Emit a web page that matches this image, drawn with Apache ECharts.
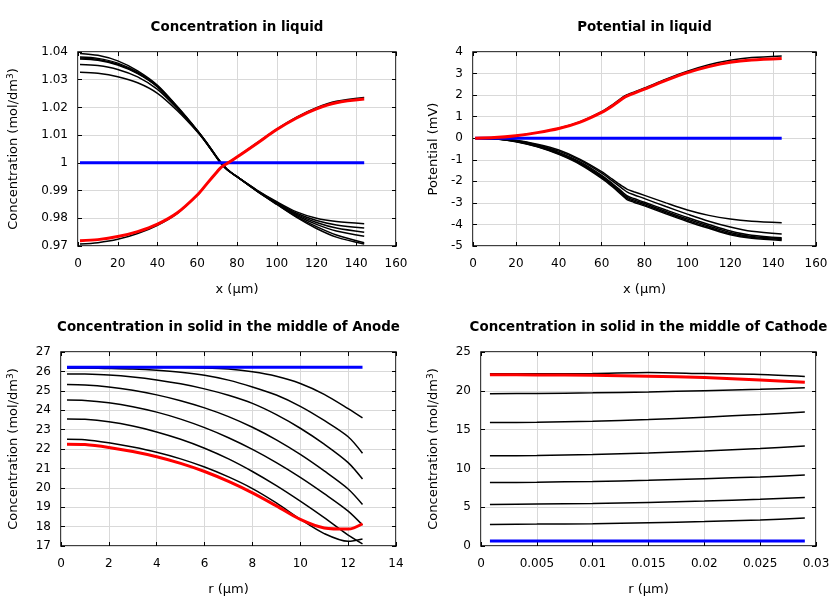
<!DOCTYPE html>
<html><head><meta charset="utf-8">
<script src="https://cdn.jsdelivr.net/npm/echarts@6/dist/echarts.min.js"></script>
<style>html,body{margin:0;padding:0;background:#fff}#c{width:840px;height:600px}</style>
</head><body><div id="c"></div>
<script>
// ---------- Plot 1: Concentration in liquid ----------
const xLiquid = [1,10,20,30,40,50,60,65,70,72,75,80,90,100,110,120,130,144];
const concLiqBlack = [
 [1.0395,1.0388,1.0368,1.0332,1.0280,1.0203,1.0118,1.0071,1.0020,1.0001,0.9978,0.9950,0.9898,0.9850,0.9803,0.9763,0.9732,0.9707],
 [1.0382,1.0377,1.0360,1.0327,1.0277,1.0201,1.0117,1.0070,1.0019,1.0000,0.9977,0.9950,0.9898,0.9851,0.9806,0.9770,0.9740,0.9712],
 [1.0378,1.0373,1.0356,1.0324,1.0275,1.0200,1.0116,1.0069,1.0018,0.9999,0.9976,0.9950,0.9899,0.9853,0.9810,0.9778,0.9754,0.9735],
 [1.0375,1.0370,1.0353,1.0322,1.0274,1.0199,1.0116,1.0069,1.0018,0.9999,0.9976,0.9950,0.9900,0.9855,0.9814,0.9785,0.9765,0.9750],
 [1.0355,1.0351,1.0337,1.0310,1.0265,1.0195,1.0114,1.0068,1.0017,0.9998,0.9975,0.9950,0.9901,0.9857,0.9818,0.9792,0.9776,0.9765],
 [1.0327,1.0323,1.0311,1.0289,1.0251,1.0188,1.0112,1.0067,1.0016,0.9997,0.9975,0.9950,0.9902,0.9860,0.9823,0.9800,0.9788,0.9780],
 [0.9707,0.9712,0.9724,0.9745,0.9775,0.9818,0.9883,0.9926,0.9968,0.9984,0.9999,1.0022,1.0072,1.0122,1.0165,1.0199,1.0222,1.0236]
];
const concLiqInitial = [1,1,1,1,1,1,1,1,1,1,1,1,1,1,1,1,1,1];
const concLiqFinal = [0.9719,0.9723,0.9734,0.9752,0.9779,0.9820,0.9884,0.9926,0.9968,0.9984,0.9998,1.0021,1.0070,1.0120,1.0162,1.0195,1.0217,1.0230];

// ---------- Plot 2: Potential in liquid ----------
const potBlack = [
 [0,-0.02,-0.09,-0.28,-0.55,-0.98,-1.55,-1.90,-2.25,-2.37,-2.48,-2.65,-3.00,-3.33,-3.58,-3.75,-3.85,-3.92],
 [0,-0.02,-0.11,-0.31,-0.60,-1.03,-1.62,-1.98,-2.36,-2.50,-2.62,-2.80,-3.17,-3.52,-3.85,-4.12,-4.32,-4.44],
 [0,-0.03,-0.13,-0.35,-0.66,-1.10,-1.72,-2.10,-2.52,-2.68,-2.80,-2.97,-3.33,-3.68,-4.00,-4.30,-4.50,-4.62],
 [0,-0.03,-0.14,-0.37,-0.69,-1.14,-1.77,-2.15,-2.58,-2.74,-2.86,-3.03,-3.40,-3.75,-4.07,-4.37,-4.56,-4.66],
 [0,-0.03,-0.15,-0.38,-0.72,-1.18,-1.82,-2.20,-2.64,-2.80,-2.92,-3.09,-3.46,-3.81,-4.13,-4.43,-4.60,-4.70],
 [0,-0.03,-0.16,-0.40,-0.75,-1.22,-1.86,-2.25,-2.69,-2.86,-2.97,-3.14,-3.51,-3.86,-4.18,-4.48,-4.64,-4.74],
 [0,0.03,0.12,0.26,0.46,0.77,1.23,1.55,1.92,2.02,2.14,2.33,2.74,3.11,3.41,3.62,3.74,3.82]
];
const potInitial = [0,0,0,0,0,0,0,0,0,0,0,0,0,0,0,0,0,0];
const potFinal = [0,0.03,0.12,0.26,0.45,0.75,1.20,1.50,1.85,1.96,2.08,2.28,2.68,3.04,3.32,3.52,3.63,3.70];

// ---------- Plot 3: Concentration in solid, Anode ----------
const rAnode = [0.25,1,2,3,4,5,6,7,8,9,10,11,12,12.6];
const anodeBlack = [
 [26.2,26.2,26.2,26.2,26.2,26.2,26.18,26.12,25.98,25.75,25.38,24.82,24.08,23.6],
 [26.17,26.17,26.15,26.12,26.06,25.96,25.8,25.55,25.2,24.78,24.2,23.47,22.63,21.78],
 [25.87,25.86,25.81,25.71,25.56,25.36,25.10,24.77,24.35,23.77,23.07,22.25,21.30,20.45],
 [25.32,25.30,25.20,25.03,24.79,24.49,24.12,23.67,23.12,22.47,21.72,20.87,19.94,19.14],
 [24.52,24.50,24.38,24.18,23.90,23.54,23.10,22.58,21.98,21.30,20.54,19.70,18.80,18.08],
 [23.55,23.53,23.40,23.18,22.88,22.50,22.04,21.49,20.84,20.11,19.31,18.46,17.56,17.11],
 [22.5,22.48,22.32,22.1,21.83,21.49,21.07,20.56,19.96,19.22,18.38,17.64,17.24,17.36]
];
const anodeInitial = [26.22,26.22,26.22,26.22,26.22,26.22,26.22,26.22,26.22,26.22,26.22,26.22,26.22,26.22];
const anodeFinal = [22.25,22.23,22.08,21.87,21.6,21.26,20.84,20.33,19.74,19.07,18.37,17.93,17.87,18.15];

// ---------- Plot 4: Concentration in solid, Cathode ----------
const rCathode = [0.0008,0.005,0.01,0.015,0.02,0.025,0.029];
const cathodeBlack = [
 [2.78,2.82,2.88,3.0,3.15,3.35,3.6],
 [5.36,5.4,5.48,5.62,5.8,6.02,6.25],
 [8.17,8.22,8.32,8.47,8.67,8.9,9.15],
 [11.62,11.67,11.8,12.0,12.25,12.55,12.88],
 [15.9,15.95,16.08,16.3,16.6,16.95,17.28],
 [19.63,19.66,19.74,19.86,20.02,20.2,20.38],
 [22.2,22.2,22.22,22.35,22.22,22.1,21.85]
];
const cathodeInitial = [0.64,0.64,0.64,0.64,0.64,0.64,0.64];
const cathodeFinal = [22.08,22.05,22.0,21.88,21.7,21.4,21.1];

// ---------- titles / axis names ----------
const titles = ['Concentration in liquid','Potential in liquid','Concentration in solid in the middle of Anode','Concentration in solid in the middle of Cathode'];
const xNames = ['x (µm)','x (µm)','r (µm)','r (µm)'];
const yNames = ['{n|Concentration (mol/dm}{s|3}{n|)}','{n|Potential (mV)}','{n|Concentration (mol/dm}{s|3}{n|)}','{n|Concentration (mol/dm}{s|3}{n|)}'];

const FONT = 'DejaVu Sans';
const grids = [
  {left:78, top:52, width:318, height:194},
  {left:473, top:52, width:343, height:194},
  {left:61, top:352, width:335, height:194},
  {left:481, top:352, width:335, height:194}
];
const xRanges = [[0,160,20],[0,160,20],[0,14,2],[0,0.03,0.005]];
const yRanges = [[0.97,1.04,0.01],[-5,4,1],[17,27,1],[0,25,5]];
const yGaps = [56,31,39,39];

const xAxes = [], yAxes = [], titleArr = [];
const tick = {inside:true,length:4,lineStyle:{color:'#000',width:1}};
grids.forEach((g,i)=>{
  titleArr.push({text:titles[i], left:g.left+g.width/2-5, top:g.top-36, textAlign:'center',
    textStyle:{fontFamily:FONT,fontSize:13.4,fontWeight:'bold',color:'#000'}});
  xAxes.push({gridIndex:i, type:'value', position:'bottom', min:xRanges[i][0], max:xRanges[i][1], interval:xRanges[i][2],
    name:xNames[i], nameLocation:'middle', nameGap:37,
    nameTextStyle:{fontFamily:FONT,fontSize:13,color:'#000'},
    axisLine:{show:false,onZero:false}, axisTick:tick,
    axisLabel:{margin:12,fontFamily:FONT,fontSize:12,color:'#000'},
    splitLine:{show:true,lineStyle:{color:'#d9d9d9',width:1}}});
  xAxes.push({gridIndex:i, type:'value', position:'top', min:xRanges[i][0], max:xRanges[i][1], interval:xRanges[i][2],
    axisLine:{show:false,onZero:false}, axisTick:tick,
    axisLabel:{show:false}, splitLine:{show:false}});
  yAxes.push({gridIndex:i, type:'value', position:'left', min:yRanges[i][0], max:yRanges[i][1], interval:yRanges[i][2],
    name:yNames[i], nameLocation:'middle', nameGap:yGaps[i], nameRotate:90,
    nameTextStyle:{fontFamily:FONT,fontSize:13,color:'#000',
      rich:{n:{fontFamily:FONT,fontSize:13,color:'#000',lineHeight:16},
            s:{fontFamily:FONT,fontSize:9,color:'#000',verticalAlign:'top',lineHeight:16,padding:[0,0,8,0]}}},
    axisLine:{show:false,onZero:false}, axisTick:tick,
    axisLabel:{margin:10,fontFamily:FONT,fontSize:12,color:'#000'},
    splitLine:{show:true,lineStyle:{color:'#d9d9d9',width:1}}});
  yAxes.push({gridIndex:i, type:'value', position:'right', min:yRanges[i][0], max:yRanges[i][1], interval:yRanges[i][2],
    axisLine:{show:false,onZero:false}, axisTick:tick,
    axisLabel:{show:false}, splitLine:{show:false}});
});

const series = [];
function addLine(gi, xs, ys, color, width, z){
  series.push({type:'line', xAxisIndex:gi*2, yAxisIndex:gi*2, data:xs.map((x,k)=>[x,ys[k]]),
    showSymbol:false, symbol:'none', smooth:0.3, lineStyle:{color:color,width:width}, z:z, silent:true, animation:false});
}
const sets = [
  [xLiquid, concLiqBlack, concLiqInitial, concLiqFinal],
  [xLiquid, potBlack, potInitial, potFinal],
  [rAnode, anodeBlack, anodeInitial, anodeFinal],
  [rCathode, cathodeBlack, cathodeInitial, cathodeFinal]
];
sets.forEach((s,i)=>{
  s[1].forEach(arr=>addLine(i, s[0], arr, '#000', 1.5, 3));
  addLine(i, s[0], s[2], '#0000ff', 3, 4);
  addLine(i, s[0], s[3], '#ff0000', 3, 5);
});

const chart = echarts.init(document.getElementById('c'), null, {renderer:'canvas'});
chart.setOption({
  animation:false,
  backgroundColor:'#fff',
  title:titleArr,
  grid:grids.map(g=>Object.assign({show:true,borderColor:'#000',borderWidth:1.5,backgroundColor:'transparent',containLabel:false},g)),
  xAxis:xAxes, yAxis:yAxes, series:series
});
</script></body></html>
